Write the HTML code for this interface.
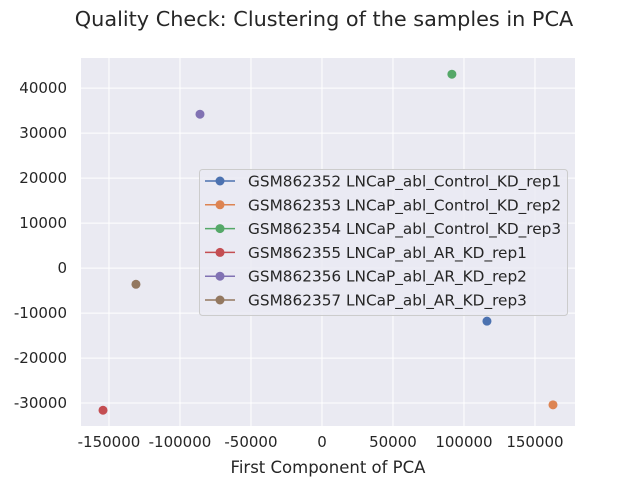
<!DOCTYPE html>
<html><head><meta charset="utf-8"><style>
body{margin:0;background:#fff;font-family:"Liberation Sans","DejaVu Sans",sans-serif}
svg text{font-family:"DejaVu Sans","Liberation Sans",sans-serif;fill:#262626}
</style></head><body>
<svg id="chart" width="640" height="480" xmlns="http://www.w3.org/2000/svg"></svg>
<script>
const names=["GSM862352 LNCaP_abl_Control_KD_rep1","GSM862353 LNCaP_abl_Control_KD_rep2","GSM862354 LNCaP_abl_Control_KD_rep3","GSM862355 LNCaP_abl_AR_KD_rep1","GSM862356 LNCaP_abl_AR_KD_rep2","GSM862357 LNCaP_abl_AR_KD_rep3"];
const pc1=[116200,162700,91500,-154200,-85900,-131000];
const pc2=[-11800,-30400,43100,-31600,34200,-3600];
const xTicks=[-150000,-100000,-50000,0,50000,100000,150000];
const yTicks=[-30000,-20000,-10000,0,10000,20000,30000,40000];
const colors=["#4C72B0","#DD8452","#55A868","#C44E52","#8172B3","#937860"];
const L=81,R=575,T=58,B=426;
const xMin=-169700,xMax=178200,yMin=-35100,yMax=46700;
const sx=v=>L+(v-xMin)/(xMax-xMin)*(R-L);
const sy=v=>B-(v-yMin)/(yMax-yMin)*(B-T);
const svg=document.getElementById('chart');
const NS="http://www.w3.org/2000/svg";
function mk(tag,attrs,parent){const e=document.createElementNS(NS,tag);for(const k in attrs)e.setAttribute(k,attrs[k]);(parent||svg).appendChild(e);return e;}
const bg=mk('rect',{x:L,y:T,width:R-L,height:B-T,fill:'#EAEAF2'});


xTicks.forEach(t=>{const x=sx(t);
 const g=mk('line',{x1:x,x2:x,y1:T,y2:B,stroke:'#fff','stroke-width':1});
 
 
 const tx=mk('text',{x:x,y:B+21,'text-anchor':'middle','font-size':15});tx.textContent=t;
 
 
});
yTicks.forEach(t=>{const y=sy(t);
 const g=mk('line',{x1:L,x2:R,y1:y,y2:y,stroke:'#fff','stroke-width':1});
 
 
 const tx=mk('text',{x:L-14,y:y+5,'text-anchor':'end','font-size':15});tx.textContent=t;
 
 
});
pc1.forEach((v,i)=>{
 const c=mk('circle',{cx:sx(v),cy:sy(pc2[i]),r:4.5,fill:colors[i]});
 
 
});
const title=mk('text',{x:324,y:26,'text-anchor':'middle','font-size':20.8});title.textContent="Quality Check: Clustering of the samples in PCA";


const xl=mk('text',{x:328,y:473,'text-anchor':'middle','font-size':16.5});xl.textContent="First Component of PCA";


const lg=mk('g',{});


mk('rect',{x:199.5,y:169.5,width:368,height:146,rx:3,fill:'#EAEAF2','fill-opacity':0.8,stroke:'#cccccc'},lg);
names.forEach((n,i)=>{const y=181+i*23.8;
 const e=mk('g',{},lg);
 
 
 mk('line',{x1:205,x2:235,y1:y,y2:y,stroke:colors[i],'stroke-width':1.5},e);
 mk('circle',{cx:220,cy:y,r:4.5,fill:colors[i]},e);
 const t=mk('text',{x:248,y:y+5.5,'font-size':15.3},e);t.textContent=n;
});
</script>
</body></html>
